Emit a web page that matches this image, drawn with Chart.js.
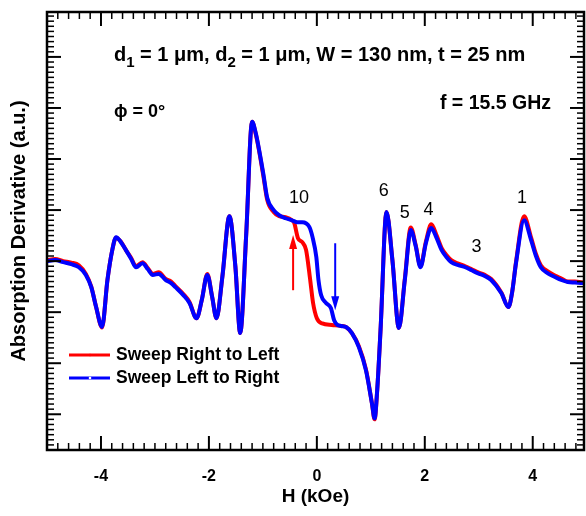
<!DOCTYPE html>
<html>
<head>
<meta charset="utf-8">
<title>Absorption Derivative</title>
<style>
html, body {
  margin:0px;
  background:#fff;
}
</style>
<script src="https://cdn.jsdelivr.net/npm/chart.js@4.4.1/dist/chart.umd.min.js"></script>
</head>
<body>
<canvas id="myChart" width="586" height="516"></canvas>
<script>
// sweep right to left (red)
const hRL = [-5.0, -4.85, -4.7, -4.55, -4.41, -4.28, -4.18, -4.09, -3.98, -3.88, -3.79, -3.72, -3.63, -3.54, -3.44, -3.35, -3.23, -3.13, -3.04, -2.93, -2.80, -2.70, -2.62, -2.47, -2.36, -2.23, -2.13, -2.03, -1.94, -1.86, -1.75, -1.62, -1.51, -1.42, -1.31, -1.20, -1.13, -1.07, -0.99, -0.92, -0.80, -0.70, -0.58, -0.46, -0.42, -0.35, -0.27, -0.20, -0.13, -0.07, 0.00, 0.10, 0.28, 0.45, 0.54, 0.65, 0.78, 0.91, 1.02, 1.07, 1.12, 1.18, 1.29, 1.40, 1.52, 1.63, 1.74, 1.83, 1.92, 2.02, 2.12, 2.22, 2.31, 2.40, 2.49, 2.62, 2.75, 2.87, 2.99, 3.11, 3.23, 3.42, 3.55, 3.62, 3.69, 3.84, 3.97, 4.06, 4.15, 4.28, 4.41, 4.53, 4.65, 4.78, 4.95];
const yRL = [0.02, 0.04, 0.0, -0.03, -0.08, -0.25, -0.50, -0.90, -1.30, -0.37, 0.22, 0.46, 0.38, 0.22, 0.06, -0.10, -0.02, -0.14, -0.25, -0.22, -0.35, -0.40, -0.49, -0.65, -0.80, -1.12, -0.75, -0.25, -0.70, -1.12, -0.30, 0.88, -0.10, -1.41, 0.50, 2.73, 2.48, 2.16, 1.66, 1.20, 0.96, 0.88, 0.86, 0.80, 0.75, 0.45, 0.37, 0.22, -0.31, -0.82, -1.12, -1.22, -1.25, -1.27, -1.29, -1.41, -1.67, -2.12, -2.78, -3.10, -2.50, -1.35, 0.96, 0.02, -1.31, -0.35, 0.66, 0.32, -0.10, 0.38, 0.72, 0.50, 0.26, 0.12, 0.02, -0.05, -0.10, -0.16, -0.22, -0.27, -0.35, -0.62, -0.90, -0.60, -0.02, 0.88, 0.46, 0.14, -0.08, -0.20, -0.28, -0.34, -0.40, -0.40, -0.42];

// sweep left to right (blue)
const hLR = [-5.0, -4.85, -4.7, -4.55, -4.41, -4.28, -4.18, -4.09, -3.98, -3.88, -3.79, -3.72, -3.63, -3.54, -3.44, -3.35, -3.23, -3.13, -3.04, -2.93, -2.80, -2.70, -2.62, -2.47, -2.36, -2.23, -2.13, -2.03, -1.94, -1.86, -1.75, -1.62, -1.51, -1.42, -1.31, -1.20, -1.13, -1.07, -0.99, -0.92, -0.80, -0.70, -0.58, -0.46, -0.36, -0.27, -0.14, -0.08, -0.01, 0.03, 0.08, 0.17, 0.26, 0.32, 0.38, 0.45, 0.54, 0.65, 0.78, 0.91, 1.02, 1.07, 1.12, 1.18, 1.29, 1.40, 1.52, 1.63, 1.74, 1.83, 1.92, 2.02, 2.12, 2.22, 2.31, 2.40, 2.49, 2.62, 2.75, 2.87, 2.99, 3.11, 3.23, 3.42, 3.55, 3.62, 3.69, 3.84, 3.97, 4.06, 4.15, 4.28, 4.41, 4.53, 4.65, 4.78, 4.95];
const yLR = [0.0, 0.02, -0.02, -0.06, -0.12, -0.27, -0.51, -0.90, -1.29, -0.37, 0.22, 0.47, 0.37, 0.22, 0.04, -0.12, -0.04, -0.16, -0.27, -0.25, -0.37, -0.43, -0.51, -0.67, -0.82, -1.12, -0.75, -0.27, -0.70, -1.12, -0.30, 0.88, -0.10, -1.41, 0.50, 2.73, 2.50, 2.18, 1.70, 1.24, 1.00, 0.90, 0.84, 0.80, 0.76, 0.76, 0.67, 0.47, 0.08, -0.37, -0.67, -0.82, -0.92, -1.16, -1.25, -1.27, -1.29, -1.41, -1.69, -2.14, -2.78, -3.08, -2.50, -1.35, 0.96, 0.02, -1.31, -0.37, 0.61, 0.30, -0.12, 0.35, 0.65, 0.45, 0.22, 0.08, -0.02, -0.08, -0.12, -0.18, -0.24, -0.29, -0.37, -0.63, -0.90, -0.60, -0.04, 0.80, 0.41, 0.10, -0.12, -0.24, -0.31, -0.37, -0.41, -0.42, -0.43];

const xTicks = [-4, -2, 0, 2, 4];
const seriesNames = ['Sweep Right to Left', 'Sweep Left to Right'];
const peakNames = ['10', '6', '5', '4', '3', '1'];

const FONT = "'Liberation Sans', Arial, sans-serif";

function toPoints(h, v) {
  return h.map(function(x, i) { return {x: x, y: v[i]}; });
}

// frame, inward ticks, arrows, labels and legend
const notes = {
  id: 'notes',
  afterDatasetsDraw(chart) {
    const ctx = chart.ctx;
    const a = chart.chartArea;
    const x = chart.scales.x, y = chart.scales.y;
    ctx.save();
    ctx.strokeStyle = '#000';
    ctx.fillStyle = '#000';
    function seg(x1, y1, x2, y2) { ctx.beginPath(); ctx.moveTo(x1, y1); ctx.lineTo(x2, y2); ctx.stroke(); }

    // x ticks every 0.2, major every 2
    for (let i = -25; i <= 25; i++) {
      const v = i / 5;
      if (v < x.min || v > x.max) continue;
      const px = x.getPixelForValue(v);
      const major = i % 10 === 0;
      const L = major ? 14 : 7;
      ctx.lineWidth = major ? 2 : 1.5;
      seg(px, a.bottom, px, a.bottom - L);
      seg(px, a.top, px, a.top + L);
    }
    // y ticks every 0.1, major every 1
    for (let i = -37; i <= 48; i++) {
      const v = i / 10;
      if (v < y.min || v > y.max) continue;
      const py = y.getPixelForValue(v);
      const major = i % 10 === 0;
      const L = major ? 14 : 7;
      ctx.lineWidth = major ? 2 : 1.5;
      seg(a.left, py, a.left + L, py);
      seg(a.right, py, a.right - L, py);
    }
    ctx.lineWidth = 2.5;
    ctx.strokeRect(a.left, a.top, a.right - a.left, a.bottom - a.top);

    // arrows
    function arrow(h, v0, v1, color) {
      const px = x.getPixelForValue(h);
      const p0 = y.getPixelForValue(v0), p1 = y.getPixelForValue(v1);
      const dir = p1 < p0 ? -1 : 1;
      ctx.strokeStyle = color; ctx.fillStyle = color; ctx.lineWidth = 2;
      seg(px, p0, px, p1 - dir * 10);
      ctx.beginPath();
      ctx.moveTo(px, p1);
      ctx.lineTo(px - 4, p1 - dir * 14);
      ctx.lineTo(px + 4, p1 - dir * 14);
      ctx.closePath();
      ctx.fill();
    }
    arrow(-0.44, -0.57, 0.51, '#ff0000');
    arrow(0.34, 0.35, -0.96, '#0000ff');

    // peak numbers
    const spots = [[-0.33, 1.24], [1.24, 1.37], [1.63, 0.94], [2.07, 1.0], [2.96, 0.27], [3.8, 1.24]];
    ctx.fillStyle = '#000';
    ctx.font = '18px ' + FONT;
    ctx.textAlign = 'center';
    ctx.textBaseline = 'middle';
    peakNames.forEach(function(t, i) {
      ctx.fillText(t, x.getPixelForValue(spots[i][0]), y.getPixelForValue(spots[i][1]));
    });

    // header text with subscripts
    ctx.textAlign = 'left';
    ctx.textBaseline = 'alphabetic';
    const parts = [['d', 0], ['1', 1], [' = 1 \u03bcm, d', 0], ['2', 1], [' = 1 \u03bcm, W = 130 nm, t = 25 nm', 0]];
    let cx = 114;
    parts.forEach(function(p) {
      ctx.font = (p[1] ? 'bold 15px ' : 'bold 20px ') + FONT;
      ctx.fillText(p[0], cx, p[1] ? 67 : 61);
      cx += ctx.measureText(p[0]).width;
    });
    ctx.font = 'bold 18px ' + FONT;
    ctx.fillText('\u03d5 = 0\u00b0', 114, 117);
    ctx.font = 'bold 19.5px ' + FONT;
    ctx.textAlign = 'right';
    ctx.fillText('f = 15.5 GHz', 551, 109);

    // legend
    const colors = ['#ff0000', '#0000ff'];
    ctx.textAlign = 'left';
    ctx.textBaseline = 'middle';
    seriesNames.forEach(function(n, i) {
      const ly = 355 + i * 23;
      ctx.strokeStyle = colors[i]; ctx.lineWidth = 3;
      seg(69, ly, 110, ly);
      ctx.fillStyle = i === 0 ? colors[i] : '#fff';
      ctx.beginPath(); ctx.arc(90, ly, 1.3, 0, Math.PI * 2); ctx.fill();
      ctx.fillStyle = '#000';
      ctx.font = 'bold 17.5px ' + FONT;
      ctx.fillText(n, 116, ly);
    });
    ctx.restore();
  }
};

const ctx = document.getElementById('myChart');
const myChart = new Chart(ctx, {
  type: 'line',
  data: {
    datasets: [{
      label: seriesNames[1],
      data: toPoints(hLR, yLR),
      borderColor: '#0000ff',
      borderWidth: 4,
      pointRadius: 0,
      cubicInterpolationMode: 'monotone',
      fill: false,
      order: 1
    }, {
      label: seriesNames[0],
      data: toPoints(hRL, yRL),
      borderColor: '#ff0000',
      borderWidth: 4,
      pointRadius: 0,
      cubicInterpolationMode: 'monotone',
      fill: false,
      order: 2
    }]
  },
  options: {
    responsive: false,
    animation: false,
    layout: {padding: {top: 12, right: 2, left: 0, bottom: 0}},
    plugins: {legend: {display: false}, tooltip: {enabled: false}},
    scales: {
      x: {
        type: 'linear', min: -5, max: 4.95,
        grid: {display: false, drawTicks: false},
        border: {display: false},
        afterBuildTicks: function(s) { s.ticks = xTicks.map(function(v) { return {value: v}; }); },
        afterFit: function(s) { s.height = 66; },
        ticks: {color: '#000', padding: 17, font: {family: FONT, size: 16, weight: 'bold'}},
        title: {display: true, text: 'H (kOe)', color: '#000', padding: {top: 0, bottom: 8},
                font: {family: FONT, size: 19, weight: 'bold'}}
      },
      y: {
        min: -3.7, max: 4.88,
        ticks: {display: false},
        grid: {display: false, drawTicks: false},
        border: {display: false},
        afterFit: function(s) { s.width = 47; },
        title: {display: true, text: 'Absorption Derivative (a.u.)', color: '#000', padding: {top: 7, bottom: 0},
                font: {family: FONT, size: 20, weight: 'bold'}}
      }
    }
  },
  plugins: [notes]
});
</script>
</body>
</html>
